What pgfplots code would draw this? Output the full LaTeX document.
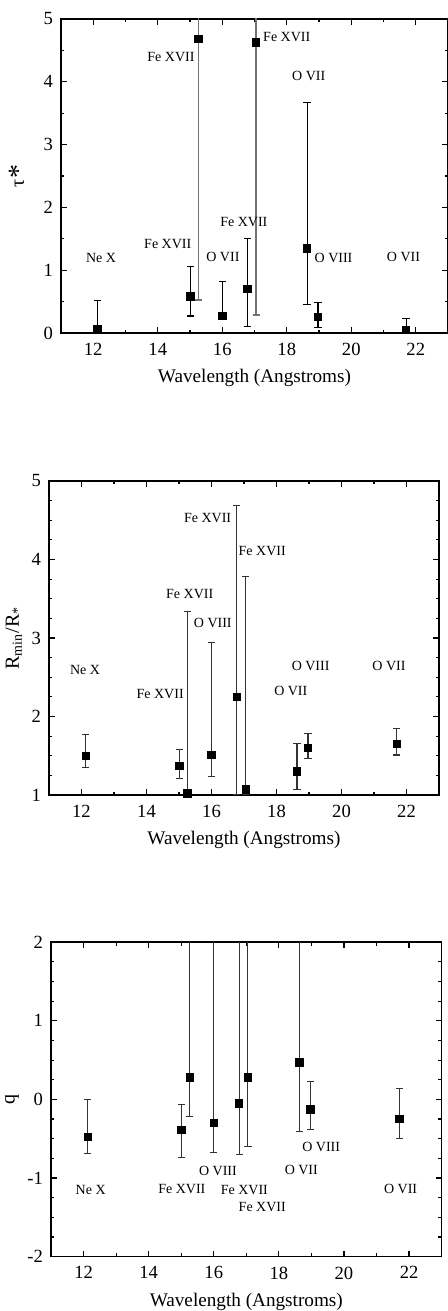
\documentclass[border=0pt]{standalone}
\usepackage{fontspec}
\setmainfont{Liberation Serif}
\usepackage{pgfplots}
\pgfplotsset{compat=1.18}
\usepackage{pgfplotstable}

% tau_* panel
\pgfplotstableread{
x     y     ep    em
12.13 0.06  0.46  0.06
15.01 0.58  0.48  0.31
16.00 0.27  0.55  0.05
16.78 0.70  0.81  0.60
18.63 1.35  2.32  0.89
18.97 0.26  0.22  0.17
21.70 0.05  0.18  0.05
}\tautab
\pgfplotstableread{
x     y     ep    em
15.26 4.68  1.00  4.15
17.05 4.63  1.00  4.34
}\tautabwide

% R_min/R_* panel
\pgfplotstableread{
x     y     ep    em
12.13 1.50  0.27  0.15
15.01 1.37  0.21  0.16
15.26 1.02  2.32  0.02
16.00 1.51  1.43  0.28
16.78 2.25  2.44  1.25
17.05 1.07  2.71  0.07
18.63 1.30  0.36  0.23
18.97 1.60  0.18  0.14
21.70 1.65  0.20  0.14
}\rtab

% q panel
\pgfplotstableread{
x     y      ep     em
12.13 -0.48  0.48   0.21
15.01 -0.39  0.32   0.35
15.26  0.28  3.00   0.50
16.00 -0.30  3.00   0.37
16.78 -0.05  3.00   0.65
17.05  0.28  3.00   0.88
18.63  0.47  3.00   0.88
18.97 -0.125 0.355  0.255
21.70 -0.25  0.39   0.25
}\qtab

\pgfplotsset{
  panel/.style={
    scale only axis, anchor=south west,
    xmin=11, xmax=23,
    xtick={12,14,...,22}, minor x tick num=1,
    tick align=inside, xtick pos=both, ytick pos=both,
    major tick length=3pt, minor tick length=1.7pt,
    axis line style={line width=0.8pt},
    every tick/.style={black, line width=0.6pt},
    tick label style={font=\fontsize{9.3}{10}\selectfont},
    /pgf/number format/assume math mode=true,
    xlabel={Wavelength (Angstroms)},
    xlabel style={font=\fontsize{9.6}{11}\selectfont, at={(axis description cs:0.5,-0.143)}, anchor=center},
    ylabel style={font=\fontsize{10}{12}\selectfont, anchor=center},
    xticklabel style={yshift=-1.5pt},
    yticklabel style={xshift=-0.5pt},
  },
  pts/.style n args={2}{only marks, mark=square*, mark size=1.85pt,
    mark options={draw=black, fill=black},
    error bars/.cd, y dir=both, y explicit,
    error bar style={line width=#2, #1},
    error mark options={rotate=90, mark size=1.8pt, line width=#2, #1}},
}
\tikzset{lab/.style={font=\fontsize{7}{8}\selectfont}}

\begin{document}
\begin{tikzpicture}
\useasboundingbox (0,0) rectangle (224pt,655.5pt);

% top panel
\begin{axis}[panel, at={(30.5pt,489pt)}, width=193.5pt, height=157pt,
  ymin=0, ymax=5, ytick={0,...,5}, minor y tick num=1,
  ylabel={τ\raisebox{-0.4ex}{\fontsize{14}{14}\selectfont *}},
  ylabel style={at={(axis description cs:-0.11,0.5)}}]
\addplot[pts={black}{0.55pt}] table[x=x, y=y, y error plus=ep, y error minus=em] {\tautab};
\addplot[pts={black!55}{0.85pt}] table[x=x, y=y, y error plus=ep, y error minus=em] {\tautabwide};
\node[lab] at (axis cs:12.24,1.20) {Ne X};
\node[lab] at (axis cs:14.31,1.41) {Fe XVII};
\node[lab] at (axis cs:14.41,4.40) {Fe XVII};
\node[lab] at (axis cs:16.02,1.21) {O VII};
\node[lab] at (axis cs:16.67,1.76) {Fe XVII};
\node[lab] at (axis cs:18.00,4.72) {Fe XVII};
\node[lab] at (axis cs:18.68,4.10) {O VII};
\node[lab] at (axis cs:19.45,1.20) {O VIII};
\node[lab] at (axis cs:21.62,1.21) {O VII};
\end{axis}

% middle panel
\begin{axis}[panel, at={(24.5pt,258pt)}, width=195pt, height=157pt,
  ymin=1, ymax=5, ytick={1,...,5}, minor y tick num=3,
  ylabel={R\textsubscript{min}/R\textsubscript{*}},
  ylabel style={at={(axis description cs:-0.09,0.5)}}]
\addplot[pts={black!80}{0.55pt}] table[x=x, y=y, y error plus=ep, y error minus=em] {\rtab};
\node[lab] at (axis cs:12.11,2.59) {Ne X};
\node[lab] at (axis cs:14.42,2.29) {Fe XVII};
\node[lab] at (axis cs:15.33,3.56) {Fe XVII};
\node[lab] at (axis cs:16.04,3.19) {O VIII};
\node[lab] at (axis cs:15.88,4.53) {Fe XVII};
\node[lab] at (axis cs:17.56,4.11) {Fe XVII};
\node[lab] at (axis cs:18.44,2.32) {O VII};
\node[lab] at (axis cs:19.05,2.65) {O VIII};
\node[lab] at (axis cs:21.46,2.65) {O VII};
\end{axis}

% bottom panel
\begin{axis}[panel, at={(25.5pt,27.2pt)}, width=195.3pt, height=157.2pt,
  ymin=-2, ymax=2, ytick={-2,...,2}, minor y tick num=3,
  ylabel={q},
  ylabel style={at={(axis description cs:-0.1,0.5)}}]
\addplot[pts={black!80}{0.55pt}] table[x=x, y=y, y error plus=ep, y error minus=em] {\qtab};
\node[lab] at (axis cs:12.22,-1.15) {Ne X};
\node[lab] at (axis cs:15.02,-1.14) {Fe XVII};
\node[lab] at (axis cs:16.13,-0.91) {O VIII};
\node[lab] at (axis cs:16.94,-1.15) {Fe XVII};
\node[lab] at (axis cs:17.49,-1.37) {Fe XVII};
\node[lab] at (axis cs:18.69,-0.90) {O VII};
\node[lab] at (axis cs:19.30,-0.61) {O VIII};
\node[lab] at (axis cs:21.74,-1.14) {O VII};
\end{axis}
\end{tikzpicture}
\end{document}
